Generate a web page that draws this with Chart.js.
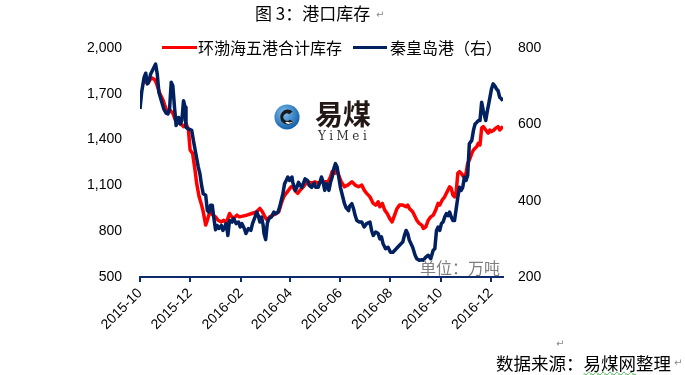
<!DOCTYPE html>
<html lang="zh">
<head>
  <meta charset="UTF-8" />
  <title>港口库存</title>
  <script src="https://cdn.jsdelivr.net/npm/chart.js"></script>
  <style>
    body { margin: 0; background: #fff; }
    #wrap { position: relative; width: 685px; height: 375px; overflow: hidden; background: #fff; }
    canvas { position: absolute; left: 0; top: 0; }
    .txt { position: absolute; white-space: nowrap; font-family: "Noto Sans CJK SC", sans-serif; color: #000; }
    .mark { position: absolute; font-family: "DejaVu Sans", sans-serif; font-size: 10px; color: #8a8a8a; line-height: 10px; }
    .swatch { position: absolute; height: 3px; }
  </style>
</head>
<body>
<div id="wrap">
  <canvas id="chart" width="685" height="375"></canvas>

  <div class="txt" style="left:255px; top:4px; font-size:17px; line-height:17px;">图 3：港口库存</div>
  <div class="mark" style="left:376px; top:10px;">↵</div>

  <div class="swatch" style="left:162px; top:46px; width:35px; background:#ff0000;"></div>
  <div class="txt" style="left:198px; top:39px; font-size:16px; line-height:16px;">环渤海五港合计库存</div>
  <div class="swatch" style="left:353px; top:46px; width:34px; background:#002060;"></div>
  <div class="txt" style="left:390px; top:39px; font-size:16px; line-height:16px;">秦皇岛港（右）</div>

  <!-- watermark logo -->
  <svg style="position:absolute; left:274px; top:104px;" width="26" height="26" viewBox="0 0 28 28">
    <defs>
      <radialGradient id="g" cx="40%" cy="35%" r="70%">
        <stop offset="0%" stop-color="#7fc0ee" />
        <stop offset="100%" stop-color="#0b5aa8" />
      </radialGradient>
    </defs>
    <circle cx="14" cy="14" r="13.5" fill="url(#g)" />
    <path d="M20 8 A8 8 0 1 0 21 19 L17 17 A4 4 0 1 1 16.5 11 Z" fill="#1a1a1a" />
    <path d="M12 20 Q16 24 22 18 Q18 21 14 19 Z" fill="#fff" />
  </svg>
  <div class="txt" style="left:315px; top:99px; font-size:28px; line-height:28px; font-weight:bold; color:#231815;">易煤</div>
  <div class="txt" style="left:318px; top:130px; font-family:'DejaVu Serif', serif; font-size:12px; line-height:12px; letter-spacing:3.5px; color:#333;">YiMei</div>

  <div class="txt" style="left:420px; top:259px; font-size:16px; line-height:16px; color:#808080;">单位：万吨</div>

  <div class="mark" style="left:556px; top:339px;">↵</div>
  <div class="txt" style="left:496px; top:354px; font-size:17.5px; line-height:18px;">数据来源：<span style="text-decoration: underline wavy #3cb043; text-decoration-thickness:1px;">易煤网</span>整理</div>
  <div class="mark" style="left:674px; top:358px;">↵</div>
</div>

<script>
  // x positions are days counted from 2015-10-01
  const tickDays = [0, 61, 123, 183, 244, 305, 366, 427];
  const tickLabels = ['2015-10', '2015-12', '2016-02', '2016-04', '2016-06', '2016-08', '2016-10', '2016-12'];

  // 环渤海五港合计库存 (left axis, 万吨)
  const redDays = [
    5, 7, 10, 12, 15, 18, 20, 24, 28, 30,
    33, 36, 40, 43, 45, 49, 53, 56, 59, 61,
    64, 67, 69, 72, 75, 77, 80, 82, 85, 89,
    92, 95, 99, 102, 105, 107, 109, 113, 116, 118,
    121, 125, 130, 136, 142, 146, 149, 152, 155, 158,
    162, 166, 169, 172, 175, 178, 181, 184, 186, 190,
    192, 195, 199, 202, 205, 209, 213, 217, 221, 225,
    229, 232, 234, 237, 238, 241, 245, 249, 253, 258,
    262, 266, 270, 273, 276, 280, 284, 287, 290, 292,
    295, 298, 301, 304, 307, 310, 313, 316, 320, 324,
    326, 328, 332, 335, 337, 340, 343, 345, 348, 351,
    354, 357, 360, 363, 365, 368, 371, 373, 375, 377,
    379, 381, 383, 385, 387, 389, 391, 394, 397, 399,
    401, 404, 406, 408, 410, 412, 414, 416, 418, 421,
    424, 426, 428, 431, 433, 436, 438, 440, 442
  ];
  const redVals = [
    1770, 1781, 1770, 1792, 1803, 1792, 1770, 1704, 1660, 1628,
    1584, 1595, 1573, 1529, 1518, 1507, 1485, 1507, 1463, 1332,
    1310, 1201, 1113, 1025, 971, 927, 840, 872, 927, 905,
    894, 872, 861, 872, 851, 884, 916, 884, 894, 905,
    894, 899, 905, 916, 927, 949, 927, 894, 872, 894,
    905, 916, 927, 982, 1025, 1048, 1069, 1091, 1091, 1058,
    1048, 1069, 1091, 1113, 1124, 1113, 1124, 1113, 1124, 1124,
    1124, 1157, 1190, 1179, 1212, 1179, 1124, 1091, 1102, 1124,
    1102, 1091, 1102, 1069, 1048, 1025, 982, 971, 993, 960,
    982, 938, 916, 884, 861, 905, 949, 971, 971, 960,
    971, 949, 927, 894, 872, 851, 840, 818, 829, 872,
    894, 905, 938, 982, 971, 1004, 1025, 1048, 1069, 1091,
    1081, 1037, 1025, 1058, 1179, 1190, 1179, 1157, 1179, 1245,
    1266, 1310, 1332, 1343, 1354, 1376, 1365, 1475, 1485, 1463,
    1442, 1463, 1452, 1463, 1475, 1485, 1463, 1475, 1485
  ];

  // 秦皇岛港 (right axis, 万吨)
  const blueDays = [
    0, 2, 5, 7, 9, 11, 13, 16, 19, 21,
    23, 26, 29, 32, 34, 36, 38, 40, 42, 44,
    47, 49, 51, 53, 55, 56, 59, 63, 65, 68,
    71, 73, 75, 77, 80, 82, 84, 86, 88, 90,
    92, 94, 96, 99, 101, 103, 105, 107, 109, 112,
    114, 117, 120, 122, 124, 127, 129, 132, 135, 137,
    140, 142, 144, 146, 148, 150, 151, 153, 155, 157,
    160, 163, 165, 168, 170, 172, 174, 176, 178, 180,
    182, 185, 186, 189, 191, 193, 195, 197, 201, 204,
    206, 209, 212, 214, 217, 219, 221, 223, 225, 227,
    229, 230, 232, 234, 236, 238, 240, 242, 244, 247,
    249, 251, 254, 255, 258, 260, 262, 264, 267, 270,
    273, 276, 280, 282, 284, 287, 290, 292, 294, 296,
    299, 302, 305, 308, 312, 316, 320, 322, 324, 326,
    328, 332, 335, 337, 340, 343, 345, 348, 351, 354,
    357, 359, 361, 363, 365, 367, 369, 371, 373, 375,
    377, 379, 381, 383, 385, 387, 389, 391, 393, 395,
    397, 399, 401, 404, 406, 408, 410, 412, 414, 416,
    418, 421, 423, 425, 428, 430, 432, 434, 436, 438,
    440, 442
  ];
  const blueVals = [
    640, 684, 723, 734, 706, 714, 732, 745, 758, 732,
    684, 662, 640, 629, 627, 640, 710, 701, 645, 597,
    618, 601, 610, 662, 645, 592, 588, 584, 558, 523,
    488, 470, 440, 418, 414, 374, 370, 388, 388, 353,
    324, 335, 327, 335, 322, 331, 340, 309, 348, 344,
    353, 340, 344, 331, 340, 327, 314, 327, 322, 340,
    357, 370, 361, 344, 357, 335, 314, 298, 340, 353,
    357, 370, 366, 370, 383, 401, 418, 444, 453, 462,
    453, 462, 448, 427, 435, 448, 440, 435, 457, 453,
    440, 435, 446, 435, 435, 448, 462, 448, 427, 444,
    440, 427, 448, 462, 484, 497, 488, 462, 435, 409,
    392, 381, 374, 385, 392, 379, 361, 348, 344, 344,
    331, 340, 344, 322, 309, 318, 314, 300, 305, 287,
    274, 278, 265, 265, 274, 283, 292, 309, 322, 314,
    296, 278, 257, 248, 244, 245, 244, 252, 257, 248,
    270, 274, 322, 331, 322, 340, 344, 357, 366, 361,
    370, 357, 348, 348, 379, 409, 435, 427, 435, 462,
    453, 466, 549, 558, 584, 601, 605, 610, 610, 658,
    636, 610, 636, 658, 693, 706, 701, 693, 688, 671,
    667, 662
  ];

  const axisColor = '#0d2a6b';
  const tickFont = { family: '"Liberation Sans", Arial, sans-serif', size: 14 };

  new Chart(document.getElementById('chart').getContext('2d'), {
    type: 'line',
    data: {
      datasets: [
        {
          label: '环渤海五港合计库存',
          data: redDays.map((d, i) => ({ x: d, y: redVals[i] })),
          yAxisID: 'y',
          borderColor: '#ff0000',
          borderWidth: 3.5,
          borderJoinStyle: 'round',
          pointRadius: 0,
          tension: 0,
          order: 2
        },
        {
          label: '秦皇岛港（右）',
          data: blueDays.map((d, i) => ({ x: d, y: blueVals[i] })),
          yAxisID: 'y1',
          borderColor: '#002060',
          borderWidth: 3.5,
          borderJoinStyle: 'round',
          pointRadius: 0,
          tension: 0,
          order: 1
        }
      ]
    },
    options: {
      responsive: false,
      animation: false,
      devicePixelRatio: 1,
      layout: { padding: { top: 48, left: 0, right: 0, bottom: 0 } },
      plugins: { legend: { display: false }, tooltip: { enabled: false }, title: { display: false } },
      scales: {
        x: {
          type: 'linear',
          min: 0,
          max: 442,
          border: { display: true, color: axisColor, width: 2 },
          grid: { display: true, drawOnChartArea: false, drawTicks: true, tickLength: 5, color: axisColor, lineWidth: 2 },
          afterBuildTicks: s => { s.ticks = tickDays.map(v => ({ value: v })); },
          afterFit: s => { s.height = 98; },
          ticks: {
            autoSkip: false,
            minRotation: 45,
            maxRotation: 45,
            padding: 3,
            color: '#000',
            font: tickFont,
            callback: v => tickLabels[tickDays.indexOf(v)]
          }
        },
        y: {
          position: 'left',
          min: 500,
          max: 2000,
          border: { display: false },
          grid: { display: false, drawTicks: false },
          afterFit: s => { s.width = 140; },
          ticks: {
            stepSize: 300,
            padding: 18,
            color: '#000',
            font: tickFont,
            callback: v => v.toLocaleString('en-US')
          }
        },
        y1: {
          position: 'right',
          min: 200,
          max: 800,
          border: { display: false },
          grid: { display: false, drawTicks: false },
          afterFit: s => { s.width = 182; },
          ticks: { stepSize: 200, padding: 15, color: '#000', font: tickFont }
        }
      }
    }
  });
</script>
</body>
</html>
